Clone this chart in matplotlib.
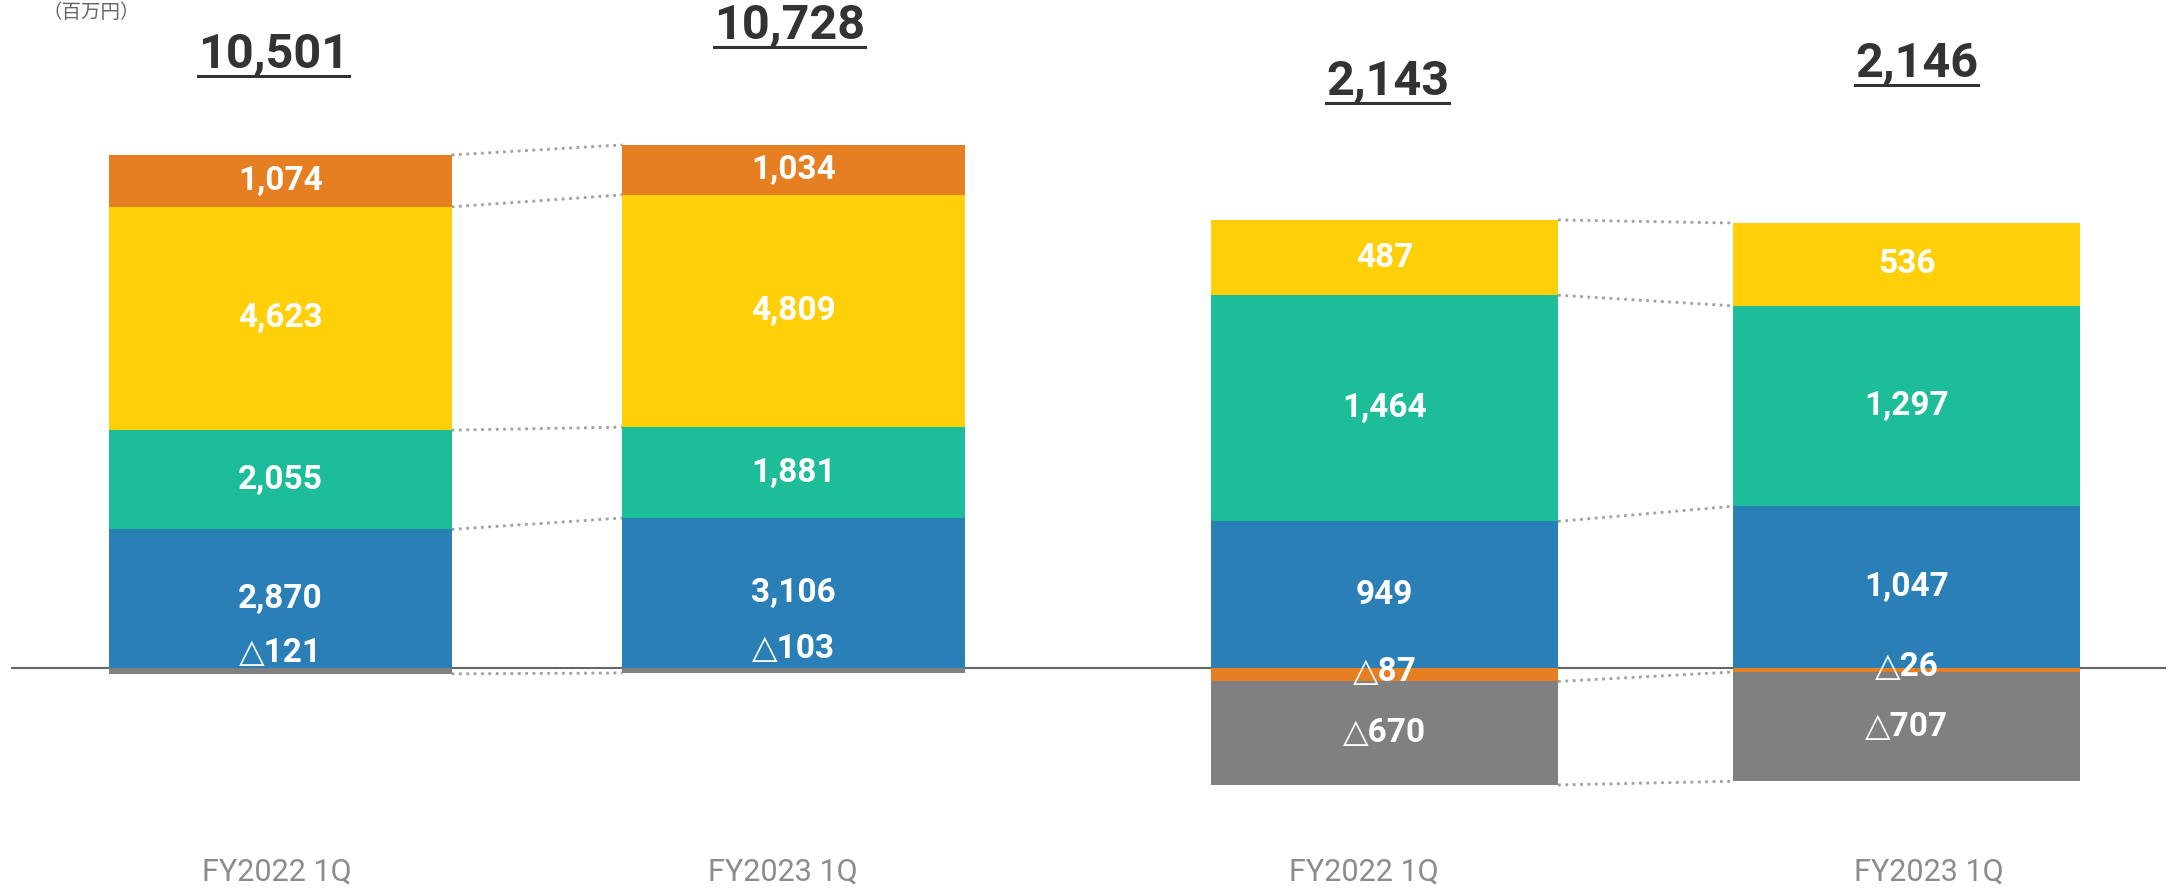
import matplotlib
matplotlib.use("Agg")
import matplotlib.pyplot as plt
from matplotlib.lines import Line2D

# ---- data ----
categories = ["FY2022 1Q", "FY2023 1Q"]

# left block (bottom -> top)
left_names = ["other", "blue", "green", "yellow", "orange"]
left_values = {
    "other": [-121, -103],
    "blue": [2870, 3106],
    "green": [2055, 1881],
    "yellow": [4623, 4809],
    "orange": [1074, 1034],
}
left_totals = [10501, 10728]

# right block
right_names = ["blue", "green", "yellow", "orange", "other"]
right_values = {
    "blue": [949, 1047],
    "green": [1464, 1297],
    "yellow": [487, 536],
    "orange": [-87, -26],
    "other": [-670, -707],
}
right_totals = [2143, 2146]

colors = {
    "orange": "#E67E22",
    "yellow": "#FFCF08",
    "green": "#1DBD9A",
    "blue": "#2A7FB7",
    "other": "#808080",
}

# ---- layout (pixels) ----
W, H = 2177, 889
zero_px = 221             # zero line, from the bottom
left_scale = 0.0483       # px per unit
right_scale = 0.1545
mid_px = 1088
# label nudges for the thin negative segments (px)
left_nudge = {("other", 0): 18, ("other", 1): 21}
right_nudge = {("orange", 0): 3, ("orange", 1): 3}
total_y_px = [[834, 863], [807, 825]]   # from the bottom
total_dx = [[-7, -4], [3, 10]]           # small horizontal shifts of totals (px)
cat_dx = [[-4, -11], [-21, 22]]          # horizontal shifts of category labels (px)

font = ["Roboto", "DejaVu Sans"]

fig = plt.figure(figsize=(W / 100, H / 100), dpi=100)
axL = fig.add_axes([11 / W, 0, (mid_px - 11) / W, 1])
axR = fig.add_axes([mid_px / W, 0, (2166 - mid_px) / W, 1])


def fmt(v):
    if v < 0:
        return "△" + format(-v, ",")
    return format(v, ",")


def draw_block(ax, names, values, totals, scale, xlim, width, nudge, ty, tdx, cdx):
    ax.set_xlim(*xlim)
    ax.set_ylim(-zero_px / scale, (H - zero_px) / scale)
    ax.axis("off")
    ax.axhline(0, color="#666666", lw=1.5, zorder=1)
    x = [0, 1]
    edges = [[], []]
    for i in x:
        pos, neg = 0, 0
        for n in names:
            v = values[n][i]
            if v >= 0:
                b = pos
                pos += v
                edges[i].append((n, pos))
            else:
                b = neg + v
                neg += v
                edges[i].append((n, neg))
            ax.bar(i, v, width, bottom=b if v >= 0 else b - v, color=colors[n],
                   zorder=2, linewidth=0)
            yc = b + v / 2 if v >= 0 else b - v / 2
            dy = nudge.get((n, i), 0)
            ax.annotate(fmt(v), (i, yc), xytext=(0, dy), textcoords="offset pixels",
                        ha="center", va="center", color="white", fontsize=24,
                        fontweight="bold", family=font, zorder=3)
        ax.annotate(categories[i], (i, 17 / H), xycoords=ax.get_xaxis_transform(),
                    xytext=(cdx[i], 0), textcoords="offset pixels",
                    ha="center", va="center", color="#8C8C8C", fontsize=22,
                    family=font)
    # dotted connectors between matching edges
    for (n0, y0), (n1, y1) in zip(edges[0], edges[1]):
        ax.plot([width / 2, 1 - width / 2], [y0, y1], ls=":", color="#A0A0A0",
                lw=2, zorder=1)
    tl = []
    for i in x:
        t = ax.annotate(format(totals[i], ","), (i, ty[i] / H),
                        xycoords=ax.get_xaxis_transform(),
                        xytext=(tdx[i], 0), textcoords="offset pixels",
                        ha="center", va="center", fontsize=35, fontweight="bold",
                        color="#333333", family=font)
        tl.append(t)
    return tl


totals_txt = draw_block(axL, left_names, left_values, left_totals, left_scale,
                        ((11 - 280.5) / 513, (mid_px - 280.5) / 513), 0.667,
                        left_nudge, total_y_px[0], total_dx[0], cat_dx[0])
totals_txt += draw_block(axR, right_names, right_values, right_totals, right_scale,
                         ((mid_px - 1384.5) / 522, (2166 - 1384.5) / 522), 0.665,
                         right_nudge, total_y_px[1], total_dx[1], cat_dx[1])

fig.text(42 / W, (H - 2) / H, "（百万円）", fontsize=14, color="#666666",
         family=["Noto Sans CJK JP", "DejaVu Sans"], va="top")

# underline the totals
fig.canvas.draw()
r = fig.canvas.get_renderer()
for t in totals_txt:
    bb = t.get_window_extent(r)
    yline = bb.y0 + 2
    fig.add_artist(Line2D([bb.x0 / W, bb.x1 / W], [yline / H, yline / H],
                          color="#333333", lw=2.2))

fig.savefig("out.png", dpi=100)
